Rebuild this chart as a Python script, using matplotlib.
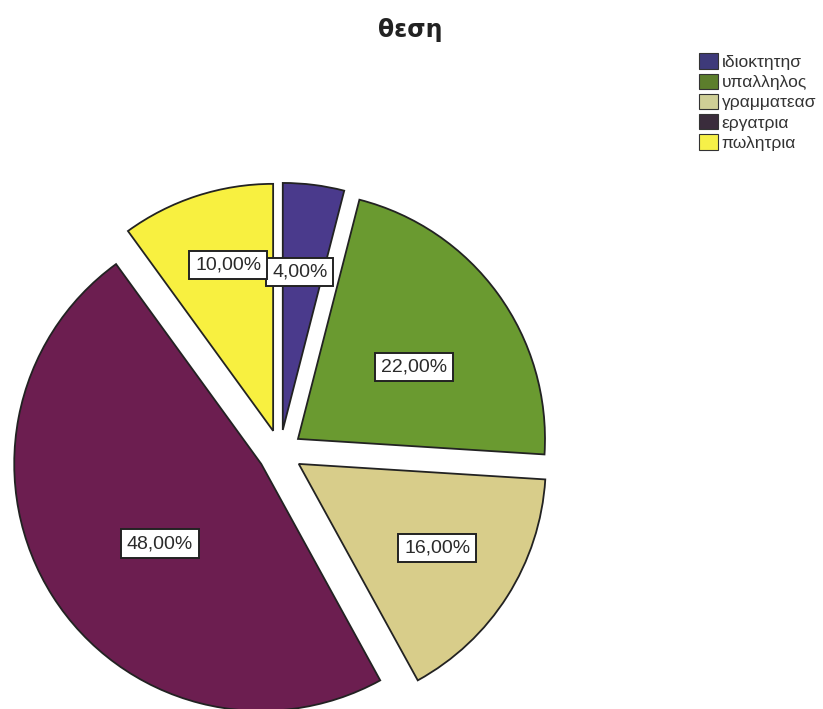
import numpy as np
import matplotlib.pyplot as plt

categories = ["ιδιοκτητησ", "υπαλληλος", "γραμματεασ", "εργατρια", "πωλητρια"]
percents = [4.0, 22.0, 16.0, 48.0, 10.0]

slice_colors = ["#4a3a8c", "#6a9a30", "#d8cd8a", "#6c1e50", "#f8f040"]
legend_colors = ["#3e3a7a", "#5c7e2c", "#cfcf96", "#3a2c3c", "#f6f048"]
# label placement: radial distance (after explode) and clockwise angle shift in degrees
label_dist = [0.643, 0.553, 0.655, 0.522, 0.695]
label_shift = [-0.9, 3.6, -1.0, -5.0, 2.5]
explode_amt = 0.09

plt.rcParams['font.family'] = ['Liberation Sans', 'DejaVu Sans']

fig = plt.figure(figsize=(8.23, 7.09), dpi=100)
ax = fig.add_axes([0, 0, 1, 1])

wedges, _ = ax.pie(percents, explode=[explode_amt] * len(percents),
                   colors=slice_colors, startangle=90, counterclock=False,
                   wedgeprops=dict(edgecolor="#222222", linewidth=1.3))

# percentage labels in white boxes
for w, p, d, s in zip(wedges, percents, label_dist, label_shift):
    mid = np.deg2rad((w.theta1 + w.theta2) / 2 - s)
    r = explode_amt + d
    ax.text(r * np.cos(mid), r * np.sin(mid), f"{p:.2f}%".replace(".", ","),
            ha="center", va="center", fontsize=14, color="#2a2a2a",
            bbox=dict(boxstyle="square,pad=0.3", fc="white", ec="#222222", lw=1.4))

ax.set_aspect("auto")
ax.set_xlim(-280 / 247, 543 / 247)
ax.set_ylim(-257 / 247, 452 / 247)
ax.axis("off")

fig.text(0.498, 0.957, "θεση", ha="center", va="center", fontsize=17,
         fontweight="bold", family=["DejaVu Sans"], color="#222222")

handles = [plt.Rectangle((0, 0), 1, 1, fc=c, ec="#333333", lw=0.8) for c in legend_colors]
leg = fig.legend(handles, categories, loc="upper left", bbox_to_anchor=(0.839, 0.937),
                 frameon=False, fontsize=12.5, handlelength=1.1, handleheight=1.0,
                 handletextpad=0.2, labelspacing=0.2, borderpad=0)
for t in leg.get_texts():
    t.set_color("#333333")

fig.savefig("out.png", dpi=100)
